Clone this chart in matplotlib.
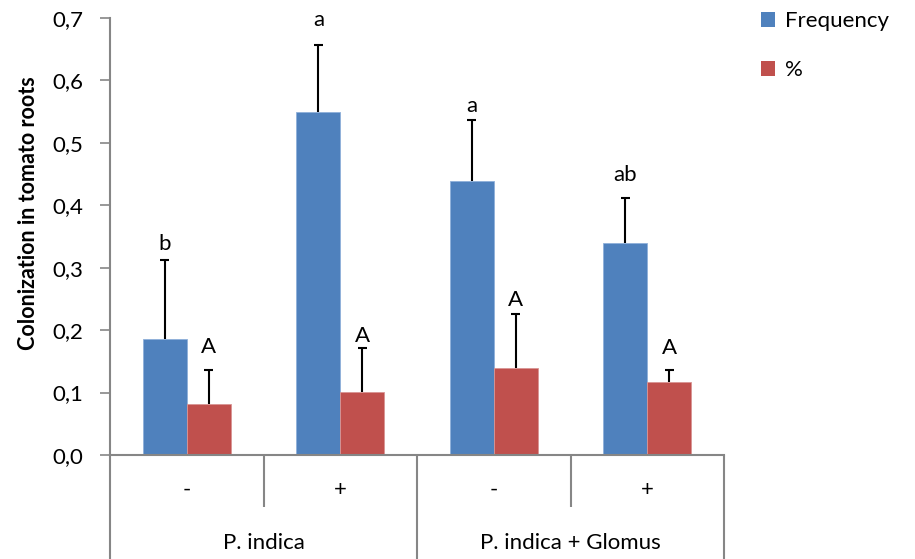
import matplotlib
matplotlib.use("Agg")
import matplotlib.pyplot as plt
from matplotlib.patches import Patch
from matplotlib.transforms import blended_transform_factory
import numpy as np

plt.rcParams['font.family'] = ['Lato', 'DejaVu Sans']

# Data
inoculants = ["P. indica", "P. indica + Glomus"]
treatments = ["-", "+", "-", "+"]
frequency = [0.186, 0.549, 0.439, 0.340]
frequency_err = [0.126, 0.108, 0.097, 0.072]
percent = [0.081, 0.101, 0.140, 0.117]
percent_err = [0.055, 0.071, 0.086, 0.019]
frequency_letters = ["b", "a", "a", "ab"]
percent_letters = ["A", "A", "A", "A"]
series_names = ["Frequency", "%"]

# gap (pixels) between each error-bar cap and the baseline of its letter
frequency_gap = [10, 19, 8, 17]
percent_gap = [17, 6, 8, 16]

blue = "#4F81BD"
red = "#C0504D"
axis_gray = "#868686"
fs = 16
px = 72 / 100  # points per pixel

fig = plt.figure(figsize=(9.15, 5.59), dpi=100)
ax = fig.add_axes([110 / 915, 104 / 559, 614 / 915, 437 / 559])

x = np.arange(len(treatments))
w = 1 / 3.5
ax.bar(x - w / 2, frequency, w, color=blue, edgecolor="#8FB0DA", linewidth=0.6, zorder=2)
ax.bar(x + w / 2, percent, w, color=red, edgecolor="#D99594", linewidth=0.6, zorder=2)

# upper error bars only
cap = 0.03
for xs, vals, errs in [(x - w / 2, frequency, frequency_err), (x + w / 2, percent, percent_err)]:
    tops = np.array(vals) + np.array(errs)
    ax.vlines(xs, vals, tops, color="black", lw=1.5, zorder=3)
    ax.hlines(tops, xs - cap, xs + cap, color="black", lw=1.5, zorder=3)

# significance letters above the error bars
for xs, vals, errs, letters, gaps in [
        (x - w / 2, frequency, frequency_err, frequency_letters, frequency_gap),
        (x + w / 2, percent, percent_err, percent_letters, percent_gap)]:
    for xi, v, e, t, g in zip(xs, vals, errs, letters, gaps):
        ax.annotate(t, (xi, v + e), xytext=(0, g * px), textcoords="offset points",
                    ha="center", va="baseline", fontsize=fs)

ax.set_xlim(-0.5, 3.5)
ax.set_ylim(0, 0.7)
yt = np.arange(0, 0.71, 0.1)
ax.set_yticks(yt)
ax.set_yticklabels([f"{v:.1f}".replace(".", ",") for v in yt])
ax.tick_params(axis="y", direction="out", length=7, width=1.2, color=axis_gray,
               pad=12, labelsize=fs)
ax.set_xticks([])

for s in ["top", "right"]:
    ax.spines[s].set_visible(False)
for s in ["left", "bottom"]:
    ax.spines[s].set_color(axis_gray)
    ax.spines[s].set_linewidth(1.5)

ax.set_ylabel("Colonization in tomato roots", fontsize=15.5, fontweight="bold")
ax.yaxis.set_label_coords(-71 / 614, 0.553)

# two-level category axis below the plot
tr = blended_transform_factory(ax.transData, ax.transAxes)
ybot = -104 / 437
yshort = -52 / 437
for xb, y2 in [(-0.5, ybot), (0.5, yshort), (1.5, ybot), (2.5, yshort), (3.5, ybot)]:
    ax.plot([xb, xb], [0, y2], transform=tr, color=axis_gray, lw=1.5,
            clip_on=False, solid_capstyle="butt")
for xi, t in zip(x, treatments):
    ax.text(xi, -35 / 437, t, transform=tr, ha="center", va="center", fontsize=fs)
for gi, g in enumerate(inoculants):
    ax.text(2 * gi + 0.5, -88 / 437, g, transform=tr, ha="center", va="center", fontsize=fs)

handles = [Patch(facecolor=blue, edgecolor="none"), Patch(facecolor=red, edgecolor="none")]
fig.legend(handles, series_names, loc="upper left", bbox_to_anchor=(752 / 915, 1 - 2 / 559),
           frameon=False, fontsize=fs, handlelength=0.65, handleheight=0.65,
           handletextpad=0.45, labelspacing=1.33, borderaxespad=0)

fig.savefig("out.png", dpi=100)
